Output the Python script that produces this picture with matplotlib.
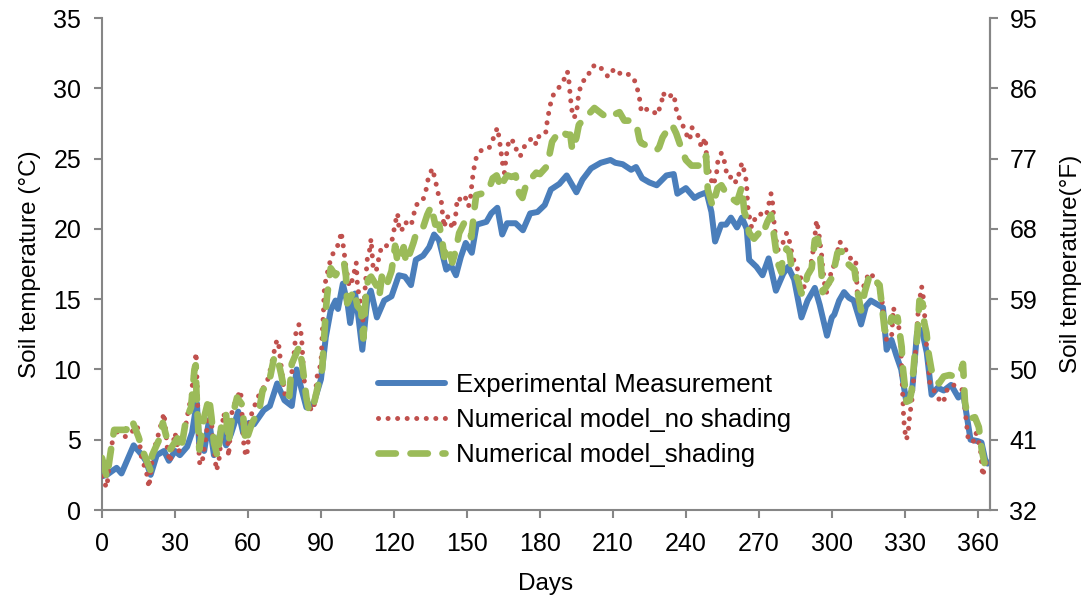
import matplotlib
matplotlib.use("Agg")
import matplotlib.pyplot as plt

plt.rcParams['font.family'] = ['Liberation Sans', 'DejaVu Sans']

# ---------------- data ----------------
days_exp = [0, 2, 6, 8, 10, 13, 16.5, 18, 20, 22.5, 25.5, 27.5, 30, 32, 35, 37, 38, 39, 40, 42,
            44, 46, 49, 51, 53, 56, 58, 60.5, 62.5, 66.5, 69, 72, 75, 78, 80, 82, 84, 87, 90, 92,
            94, 96, 97, 99, 101, 102, 104, 105, 107, 109, 110.5, 113, 116, 119, 122, 124.5, 127,
            129, 132, 134.5, 136.5, 138.5, 141.5, 143.5, 145.5, 147.5, 149.5, 152, 154, 158, 160,
            162.5, 164.5, 166.5, 170, 173, 176, 179, 182, 184.5, 188, 191, 195, 197.5, 201, 205,
            209, 211, 214, 217.5, 219.5, 222, 225, 228, 232, 235, 236.5, 240, 243.5, 245.5, 248.5,
            250.5, 252, 254.5, 256.5, 258.5, 261, 263, 265, 266, 269, 271.5, 274, 277, 280, 282,
            284.5, 287.5, 290, 293, 295, 298, 300, 301, 303, 305, 307, 309, 312, 314, 316, 319,
            321, 322.5, 324.5, 326.5, 328.5, 330.5, 333, 335, 337, 339, 341, 343.5, 346, 349, 352,
            354, 357, 360, 361.5, 363, 364]
temp_exp = [2.4, 2.5, 3.0, 2.6, 3.4, 4.6, 3.9, 3.5, 2.5, 3.9, 4.2, 3.5, 4.2, 3.9, 4.5, 5.5, 6.6, 7.6, 4.5, 4.2,
            6.4, 3.9, 5.7, 4.6, 5.4, 7.0, 5.5, 6.2, 6.1, 7.1, 7.4, 9.0, 7.8, 7.4, 10.0, 8.6, 7.3, 7.6, 9.3, 12.3,
            14.2, 14.9, 14.3, 16.1, 14.6, 13.3, 15.4, 14.3, 11.4, 14.9, 15.6, 13.7, 14.9, 15.2, 16.7, 16.6, 16.0,
            17.8, 18.1, 18.7, 19.6, 19.2, 17.1, 17.4, 16.7, 18.0, 19.0, 18.3, 20.3, 20.5, 21.1,
            21.5, 19.6, 20.4, 20.4, 19.9, 21.1, 21.2, 21.7, 22.8, 23.2, 23.8, 22.6, 23.5, 24.3, 24.7,
            24.9, 24.7, 24.6, 24.2, 24.4, 23.6, 23.3, 23.1, 23.8, 23.9, 22.5, 22.9, 22.2, 22.4, 22.6,
            21.2, 19.1, 20.3, 20.3, 20.8, 20.1, 20.8, 20.0, 17.8, 17.3, 16.7, 17.9, 15.6, 16.8, 17.3,
            16.4, 13.7, 14.9, 15.8, 14.6, 12.4, 13.7, 13.9, 14.9, 15.5, 15.1, 14.9, 13.2, 14.5, 14.9, 14.6,
            14.4, 11.4, 12.1, 11.0, 10.0, 7.8, 8.5, 12.6, 12.8, 11.2, 8.2, 8.7, 8.5, 8.9, 8.0,
            8.3, 5.0, 4.9, 4.8, 3.6, 3.3]

days_noshade = [0, 1, 2, 3, 5, 7, 10, 12, 14.5, 16.5, 18, 19.3, 21, 22.6, 25.5, 27, 28, 30, 31.5, 34,
                35.5, 36.6, 38, 38.7, 40, 41, 43, 44, 45, 47, 48, 50, 51.5, 52, 53.5, 55.5, 57, 58.4,
                59.5, 61, 62.5, 64, 66, 68, 69.5, 71.5, 72.4, 73.6, 75, 76, 77, 79, 79.8, 81, 82, 83,
                84, 86, 87, 88.5, 90, 90.6, 91, 91.3, 92, 93.4, 94.2, 95.8, 97.5, 98.3, 99.5, 100,
                101.6, 103, 104.5, 105, 106.5, 107.4, 108, 109, 110, 110.6, 111.5, 112.7, 114, 115,
                117, 119, 120, 121, 121.5, 122, 123, 124.5, 126, 127, 128, 129, 131.6, 133, 134,
                135.7, 137, 138, 139.5, 140, 140.7, 141.5, 142.7, 144, 145, 145.6, 146, 147, 149,
                150.6, 151.3, 151.8, 152.3, 153, 154, 156, 159, 161, 162.5, 163.3, 164, 164.6, 165.4,
                166, 166.6, 167.4, 170, 170.5, 172, 174, 177, 178.5, 180, 182.6, 183, 184, 185, 188,
                190.5, 191.3, 192, 192.5, 193, 193.7, 195, 195.4, 196, 197.5, 199.5, 201, 203.6, 207,
                208, 210.6, 214, 216.8, 218.8, 220, 221, 221.7, 223.8, 226, 228, 230, 230.5, 232, 235,
                235.8, 236.5, 238, 239.4, 241.5, 242.5, 244.8, 246.4, 248, 248.6, 249.7, 251, 252.5,
                253, 254.6, 255.8, 256.7, 258, 259, 260.6, 262, 263, 264.5, 265, 265.3, 265.6, 267,
                268.6, 270, 273, 274, 275, 275.6, 276.4, 277, 277.7, 279, 281.4, 282, 283.4, 284.6,
                286, 288, 288.8, 290, 291.2, 292, 292.8, 293.7, 294.5, 295.8, 296.2, 297.4, 298.3,
                300, 302, 302.3, 303, 304.5, 308, 309.8, 310.5, 311, 313.5, 315.5, 318, 319.6, 320.8,
                321.7, 323, 324.5, 325.3, 326.6, 328.2, 328.7, 329.1, 329.5, 329.9, 330.7, 331.6, 332,
                332.8, 334, 334.9, 335.6, 336.9, 337.6, 338, 338.9, 339.5, 340.2, 342.3, 345, 346.3,
                347.6, 349.7, 351.8, 353.9, 355.5, 356, 358, 359.2, 360, 361.2, 361.6, 362, 363, 364]
temp_noshade = [2.4, 1.9, 1.6, 3.3, 5.8, 5.4, 5.2, 5.5, 6.0, 3.4, 3.0, 1.6, 4.1, 5.0, 6.9, 4.1, 3.4, 5.5, 4.1, 5.6,
                7.1, 8.0, 10.3, 11.2, 3.4, 3.2, 5.5, 7.5, 6.2, 2.8, 3.4, 6.9, 5.7, 3.8, 7.1, 8.0, 8.5, 4.3,
                3.8, 6.6, 7.3, 8.0, 8.6, 9.2, 10.2, 11.9, 12.1, 10.3, 8.3, 8.1, 8.3, 11.2, 12.8, 13.2, 12.4, 9.4,
                8.1, 7.1, 7.1, 9.6, 10.4, 12.8, 13.9, 15.5, 16.4, 17.4, 18.0, 18.5, 19.0, 19.8, 18.4, 17.6,
                15.9, 16.4, 17.6, 15.9, 14.5, 13.3, 15.4, 17.8, 18.5, 19.3, 17.1, 17.0, 18.1, 18.8,
                18.8, 19.0, 19.9, 20.8, 21.1, 20.2, 19.8, 20.5, 20.3, 20.2, 20.9, 21.7, 21.9, 22.6, 23.5,
                24.3, 23.5, 22.6, 21.9, 21.0, 20.1, 20.9, 20.8, 20.0, 20.5, 21.3, 22.2, 22.1, 22.4,
                21.6, 21.9, 22.8, 23.6, 24.4, 25.2, 25.6, 25.7, 26.5, 27.2, 26.4, 25.5, 24.7, 24.0,
                24.9, 25.7, 26.4, 26.1, 25.3, 25.2, 26.0, 26.5, 26.0, 26.8, 26.9, 27.7, 28.6, 29.4, 30.1,
                30.8, 31.2, 30.4, 29.4, 28.6, 27.9, 28.1, 28.8, 29.7, 30.5, 30.7, 31.5, 31.7, 31.1,
                30.8, 31.4, 30.9, 31.0, 30.6, 30.0, 29.2, 28.3, 28.5, 28.5, 28.1, 28.9, 29.7, 29.3, 29.6,
                28.8, 28.0, 27.8, 27.0, 26.3, 27.2, 26.7, 25.8, 26.5, 24.8, 24.0, 23.1, 23.7,
                24.7, 25.4, 24.8, 24.0, 23.6, 23.8, 23.3, 24.0, 24.7, 23.8, 23.0, 22.0, 21.3, 20.1,
                20.8, 21.1, 20.9, 21.7, 22.5, 21.9, 20.1, 19.3, 18.5, 18.6, 19.7, 19.6, 18.4, 17.6,
                17.1, 16.1, 15.8, 16.6, 17.3, 18.1, 19.1, 20.6, 19.9, 18.1, 17.3, 15.5, 15.5,
                17.3, 17.4, 18.3, 19.1, 18.9, 17.8, 17.8, 15.3, 14.4, 16.2, 16.9, 16.4, 15.6, 14.7,
                12.2, 12.1, 12.2, 14.4, 13.5, 12.6, 10.0, 8.3, 6.6, 5.7, 5.0, 5.9, 6.8,
                7.6, 10.2, 12.7, 14.4, 15.9, 15.1, 14.2, 11.7, 10.9, 9.1, 8.4, 7.6, 7.9,
                8.7, 8.9, 8.8, 8.5, 5.9, 5.1, 4.8, 5.5, 5.1, 4.1, 3.2, 2.4, 3.2, 3.6]

days_shade = [0, 2, 3.7, 5, 10, 12.3, 15, 17, 20, 20.6, 24, 25, 26.5, 28, 31, 32.5, 34.5, 36.6, 38, 38.5,
              38.8, 39.2, 40, 42, 44, 45, 46, 47.5, 49, 51, 52, 53.5, 55.5, 57.6, 59, 61.7, 64.6, 66,
              68.7, 70.8, 72, 73.6, 75, 77, 78, 80, 81, 82.3, 84, 85, 86.5, 89, 90.5, 91.3, 92, 92.5,
              94, 96, 97.5, 99.5, 100.3, 100.8, 102.3, 103.7, 105, 106.5, 107.4, 108.5, 109.4, 110.6,
              112.7, 114, 115, 116.8, 119, 120.5, 121.5, 124, 125, 126, 128, 129, 131.6, 133.7, 135.3,
              137, 138.6, 139.8, 140.7, 141.5, 142.7, 144, 145.6, 146.8, 148.8, 151, 151.8, 153, 153.8,
              156, 159, 160.6, 162.2, 164, 165.4, 166.6, 168.3, 170, 171.5, 172.8, 174.4, 178.5, 180,
              182.6, 183, 185, 187, 189, 190.8, 192.5, 193.3, 195, 196, 197.5, 202.4, 205.3, 207.7,
              212.7, 214.7, 216.8, 219.7, 221, 221.7, 228, 229, 230.4, 233, 234.3, 236, 238.6, 240,
              242.3, 247.6, 248.3, 249, 251, 253, 254.6, 257, 261, 263, 264, 264.9, 266, 268, 270,
              271.3, 273.5, 275, 276.4, 277.7, 279.3, 279.7, 281.4, 282.6, 283.4, 286, 287.5, 288.8,
              290, 291.7, 293, 294.2, 295, 295.8, 296.2, 297.8, 300.3, 302.3, 304, 306, 309.3, 310.5,
              312, 313.5, 315.5, 317.5, 319.6, 320.8, 321.7, 323, 324.5, 325.8, 327, 328.7, 329, 330,
              330.7, 332, 332.8, 334, 334.9, 336, 337.3, 338, 338.9, 339.7, 340.9, 342, 344, 346,
              348.4, 350.4, 352.5, 353.9, 354.7, 355.5, 356.8, 358.8, 360.4, 361.6, 363, 364]
temp_shade = [3.7, 2.3, 4.3, 5.7, 5.7, 6.4, 5.2, 4.1, 2.8, 3.9, 5.2, 6.2, 5.2, 4.3, 5.1, 4.3, 6.4, 7.3, 10.0, 10.3,
              8.5, 7.0, 4.3, 6.6, 8.0, 6.6, 4.8, 3.8, 5.9, 6.8, 4.8, 6.6, 8.0, 7.5, 4.8, 6.2, 7.1, 8.5,
              9.1, 10.9, 10.9, 9.7, 8.5, 8.1, 10.4, 11.2, 11.6, 10.4, 8.0, 7.1, 7.1, 9.0, 10.0, 12.3, 14.2, 15.2,
              17.2, 16.7, 17.1, 17.6, 16.6, 14.7, 15.2, 15.6, 14.5, 14.2, 12.2, 15.4, 16.4, 16.6,
              16.0, 15.2, 16.6, 15.9, 17.0, 18.8, 17.6, 18.7, 17.6, 18.0, 19.0, 19.6, 19.9, 21.0, 21.6,
              20.3, 20.3, 19.2, 18.0, 18.7, 18.6, 17.6, 18.6, 19.7, 20.4, 19.8, 19.4, 21.3, 22.4,
              22.5, 22.8, 23.6, 23.8, 22.9, 23.5, 23.8, 23.7, 23.8, 22.5, 22.2, 23.2, 24.0, 23.9,
              24.4, 24.5, 26.2, 26.7, 27.0, 26.7, 26.7, 25.6, 26.5, 27.4, 27.7, 28.6, 28.2, 27.9,
              28.3, 27.7, 27.7, 27.4, 26.3, 26.1, 25.6, 25.8, 26.5, 27.2, 27.4, 26.8, 25.5, 24.9,
              24.5, 24.5, 25.2, 22.8, 21.6, 22.9, 23.1, 22.4, 21.9, 23.0, 21.2, 20.8, 19.7, 19.3, 19.7,
              19.5, 20.5, 21.0, 19.3, 17.6, 16.9, 18.0, 18.6, 18.3, 17.3, 16.4, 15.4, 15.9,
              16.7, 17.2, 19.2, 19.3, 18.5, 16.7, 15.5, 15.9, 16.6, 18.3, 18.4, 17.6, 17.1, 15.6,
              14.2, 15.5, 16.7, 16.4, 16.0, 14.2, 12.8, 12.6, 13.7, 13.5, 13.7, 11.6, 10.4, 8.8,
              7.7, 7.8, 8.5, 10.9, 11.9, 14.9, 14.7, 13.3, 12.6, 11.2, 10.0, 9.5, 9.0, 9.5,
              9.6, 9.5, 9.6, 10.4, 7.7, 6.9, 6.5, 6.6, 5.9, 4.3, 3.1, 3.0]

x_ticks = [0, 30, 60, 90, 120, 150, 180, 210, 240, 270, 300, 330, 360]
c_ticks = [0, 5, 10, 15, 20, 25, 30, 35]
f_ticks = [32, 41, 50, 59, 68, 77, 86, 95]

labels = ['Experimental Measurement', 'Numerical model_no shading', 'Numerical model_shading']
colors = ['#4a7ebb', '#c0504d', '#9bbb59']

# ---------------- figure ----------------
W, H = 1086, 601
fig = plt.figure(figsize=(W / 100, H / 100), dpi=100)
ax = fig.add_axes([102 / W, 1 - 510 / H, 888 / W, 492 / H])

ax.plot(days_exp, temp_exp, color=colors[0], lw=4.3, solid_joinstyle='round',
        solid_capstyle='round', label=labels[0], zorder=3)
ax.plot(days_noshade, temp_noshade, color=colors[1], lw=3.6, linestyle=(0, (0.01, 1.9)),
        dash_capstyle='round', label=labels[1], zorder=4)
ax.plot(days_shade, temp_shade, color=colors[2], lw=4.8, linestyle=(0, (2.6, 2.2)),
        dash_capstyle='round', dash_joinstyle='round', label=labels[2], zorder=5)

ax.set_xlim(0, 365)
ax.set_ylim(0, 35)
ax.set_xticks(x_ticks)
ax.set_yticks(c_ticks)

gray = '#868686'
for side in ['left', 'bottom', 'right']:
    ax.spines[side].set_color(gray)
    ax.spines[side].set_linewidth(1.5)
ax.spines['top'].set_visible(False)
ax.tick_params(axis='both', colors=gray, labelcolor='black', labelsize=18,
               length=6, width=1.5, direction='out')
ax.tick_params(axis='x', pad=10)
ax.tick_params(axis='y', pad=9)

ax.set_xlabel('Days', fontsize=17.5, labelpad=12)
ax.set_ylabel('Soil temperature (°C)', fontsize=17.5, labelpad=9)

ax2 = ax.twinx()
ax2.set_ylim(32, 95)
ax2.set_yticks(f_ticks)
for side in ['left', 'bottom', 'top']:
    ax2.spines[side].set_visible(False)
ax2.spines['right'].set_color(gray)
ax2.spines['right'].set_linewidth(1.5)
ax2.tick_params(axis='y', colors=gray, labelcolor='black', labelsize=18,
                length=6, width=1.5, direction='out', pad=8)
ax2.set_ylabel('Soil temperature(°F)', fontsize=17.5, labelpad=16)

leg = ax.legend(loc='upper left', bbox_to_anchor=(378 / W, 1 - 373 / H),
                bbox_transform=fig.transFigure, frameon=False, fontsize=18.6,
                handlelength=2.6, handletextpad=0.4, labelspacing=0.42,
                borderpad=0, borderaxespad=0)

fig.savefig('out.png', dpi=100)
